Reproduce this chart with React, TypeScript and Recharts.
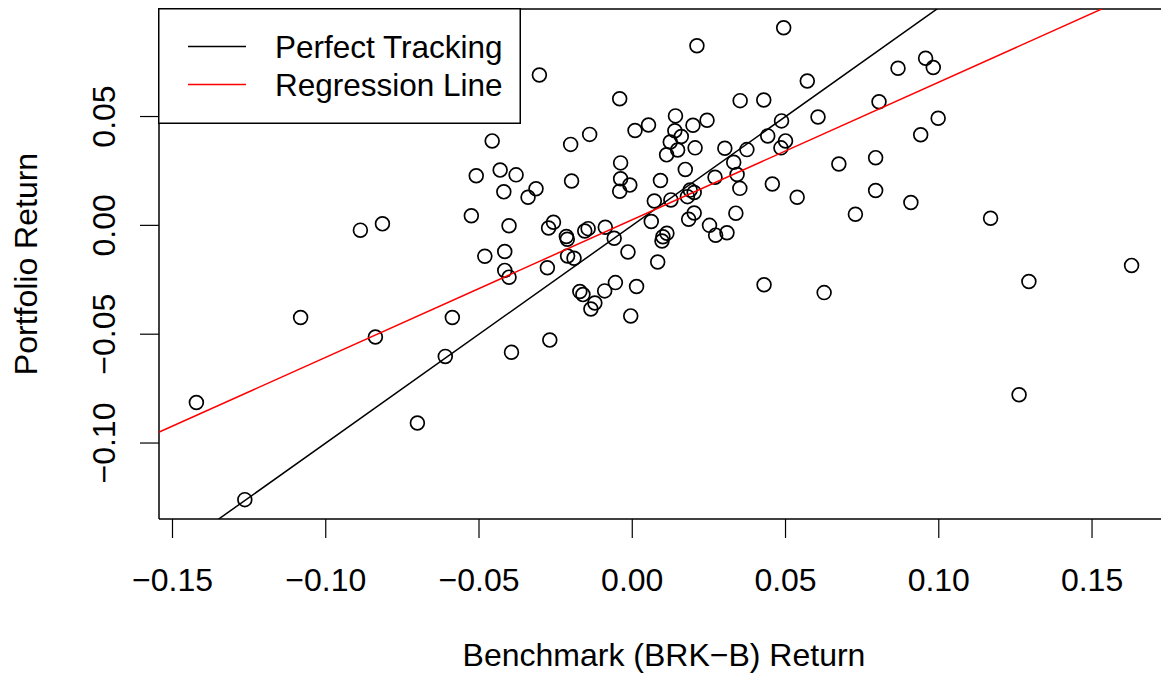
import React from "react";
import {
  ScatterChart,
  Scatter,
  XAxis,
  YAxis,
  ReferenceLine,
  Legend,
} from "recharts";

// Benchmark (BRK-B) monthly returns
const BENCH_RETURNS = [
  0.0494, 0.0211, -0.0303, 0.0571, -0.0041, 0.0352, 0.0429, 0.0141, 0.0606, 0.0244,
  0.0487, 0.0198, 0.0053, 0.0009, 0.0139, 0.016, -0.0139, 0.0442, 0.0124, 0.05,
  -0.0201, 0.0205, 0.0302, 0.0148, 0.0374, 0.0485, 0.0112, -0.0038, 0.0331, 0.0173,
  -0.0431, -0.0379, 0.0674, 0.0342, 0.027, -0.0038, 0.0092, -0.0198, -0.0008, -0.0041,
  0.0457, 0.0351, -0.0314, -0.0419, -0.034, 0.0538, 0.0189, 0.0202, 0.018, 0.0126,
  0.0072, -0.0402, -0.0257, -0.0273, -0.0215, -0.0212, -0.0144, -0.0155, -0.0088, -0.0059,
  0.0062, 0.0202, 0.0184, 0.0338, 0.0252, 0.0272, 0.0309, 0.0113, 0.01, 0.0097,
  -0.0416, -0.0014, -0.0211, -0.019, 0.0083, -0.0277, -0.0416, -0.0402, -0.0457, -0.0509,
  -0.0525, -0.0887, -0.0815, -0.0481, -0.0171, -0.0161, -0.009, -0.0055, 0.0014, -0.0122,
  -0.0135, -0.0005, -0.0269, -0.0394, 0.043, 0.0626, 0.1294, 0.1629, 0.1262, 0.0957,
  0.0982, 0.0867, 0.0805, 0.0998, 0.0941, 0.0794, 0.0794, 0.0909, 0.0728, 0.1169,
  -0.1082, -0.0838, -0.0587, -0.061, -0.1422, -0.0701, -0.1264,
];

// Portfolio returns for the same months
const PORT_RETURNS = [
  0.0908, 0.0825, 0.0691, 0.0663, 0.0582, 0.0573, 0.0576, 0.0503, 0.0498, 0.0483,
  0.048, 0.046, 0.0461, 0.0436, 0.0435, 0.0408, 0.0418, 0.0411, 0.0383, 0.0388,
  0.0372, 0.0356, 0.0354, 0.0346, 0.0348, 0.0356, 0.0324, 0.0287, 0.029, 0.0257,
  0.0254, 0.0232, 0.0282, 0.0234, 0.0221, 0.0214, 0.0206, 0.0204, 0.0185, 0.0157,
  0.019, 0.017, 0.0168, 0.0154, 0.0129, 0.0129, 0.0162, 0.0151, 0.0132, 0.0117,
  0.0112, -0.0002, 0.0014, -0.0012, -0.0051, -0.0064, -0.0015, -0.0026, -0.0009, -0.0059,
  0.0018, 0.0057, 0.0028, 0.0056, 0.0, -0.0045, -0.0034, -0.0036, -0.0052, -0.0072,
  -0.012, -0.0122, -0.0141, -0.0151, -0.0168, -0.0195, -0.0207, -0.0238, 0.0388, 0.0228,
  0.0044, -0.0022, 0.0007, -0.0142, -0.0304, -0.0318, -0.0301, -0.0263, -0.0281, -0.0357,
  -0.0384, -0.0416, -0.0527, -0.0583, -0.0273, -0.0309, -0.0258, -0.0184, -0.0778, 0.0768,
  0.0725, 0.0722, 0.0568, 0.0492, 0.0416, 0.0311, 0.016, 0.0105, 0.0051, 0.0033,
  -0.0423, -0.0513, -0.0423, -0.0602, -0.0814, -0.0908, -0.126,
];

const X_TICKS = [-0.15, -0.1, -0.05, 0, 0.05, 0.1, 0.15];
const Y_TICKS = [-0.1, -0.05, 0, 0.05];

const TRACK_INTERCEPT = 0;
const TRACK_SLOPE = 1;
const REG_INTERCEPT = 0.0026;
const REG_SLOPE = 0.632;

const X_DOMAIN: [number, number] = [-0.1544, 0.1725];
const Y_DOMAIN: [number, number] = [-0.1349, 0.0994];
const LINE_X = [-0.2, 0.2];

const FONT = "'Liberation Sans', Arial, Helvetica, sans-serif";
const FS = 32;

const points = BENCH_RETURNS.map((x, i) => ({ x, y: PORT_RETURNS[i] }));
const trackLine = LINE_X.map((x) => ({ x, y: TRACK_INTERCEPT + TRACK_SLOPE * x }));
const regLine = LINE_X.map((x) => ({ x, y: REG_INTERCEPT + REG_SLOPE * x }));

const fmt = (v: number) => v.toFixed(2).replace("-", "\u2212");

const HollowCircle = (props: any) => {
  const { cx, cy } = props;
  if (cx == null || cy == null) return <g />;
  return <circle cx={cx} cy={cy} r={6.9} fill="none" stroke="#000" strokeWidth={1.7} />;
};

const NoMark = () => <g />;

const YTick = (props: any) => {
  const { x, y, payload } = props;
  return (
    <text
      x={x}
      y={y}
      transform={`rotate(-90, ${x}, ${y})`}
      textAnchor="middle"
      fontSize={FS}
      fontFamily={FONT}
      fill="#000"
    >
      {fmt(payload.value)}
    </text>
  );
};

const renderLegend = (props: any) => {
  const items = (props.payload || []).filter(
    (entry: any) => entry.type !== "none" && entry.value !== "Returns"
  );
  return (
    <svg width={363} height={116} style={{ display: "block" }}>
      <rect x={0.75} y={0.75} width={361.5} height={114.5} fill="#fff" stroke="#000" strokeWidth={1.5} />
      {items.map((entry: any, i: number) => (
        <g key={entry.value}>
          <line
            x1={30}
            x2={88}
            y1={38.5 + i * 38}
            y2={38.5 + i * 38}
            stroke={entry.color}
            strokeWidth={1.5}
          />
          <text x={117} y={49.5 + i * 38} fontSize={31.5} fontFamily={FONT} fill="#000">
            {entry.value}
          </text>
        </g>
      ))}
    </svg>
  );
};

export default function App() {
  return (
    <div
      style={{
        position: "fixed",
        left: 0,
        top: 0,
        width: 1161,
        height: 675,
        overflow: "hidden",
        background: "#fff",
      }}
    >
      <ScatterChart width={1161} height={675} margin={{ top: 9, right: 0, bottom: 0, left: 0 }}>
        <XAxis
          type="number"
          dataKey="x"
          domain={X_DOMAIN}
          allowDataOverflow
          ticks={X_TICKS}
          interval={0}
          tickFormatter={fmt}
          height={156}
          tickSize={19}
          tickMargin={30}
          axisLine={{ stroke: "#000", strokeWidth: 1.5 }}
          tickLine={{ stroke: "#000", strokeWidth: 1.2 }}
          tick={{ fill: "#000", fontSize: FS, fontFamily: FONT }}
          label={() => (
            <text x={664} y={666} textAnchor="middle" fontSize={FS} fontFamily={FONT} fill="#000">
              Benchmark (BRK−B) Return
            </text>
          )}
        />
        <YAxis
          type="number"
          dataKey="y"
          domain={Y_DOMAIN}
          allowDataOverflow
          ticks={Y_TICKS}
          interval={0}
          width={159}
          tickSize={19}
          tickMargin={25}
          axisLine={{ stroke: "#000", strokeWidth: 1.5 }}
          tickLine={{ stroke: "#000", strokeWidth: 1.2 }}
          tick={<YTick />}
          label={() => (
            <text
              x={37}
              y={264}
              transform="rotate(-90, 37, 264)"
              textAnchor="middle"
              fontSize={FS}
              fontFamily={FONT}
              fill="#000"
            >
              Portfolio Return
            </text>
          )}
        />
        <ReferenceLine y={Y_DOMAIN[1]} stroke="#000" strokeWidth={1.5} />
        <Scatter
          name="Returns"
          data={points}
          shape={<HollowCircle />}
          legendType="none"
          isAnimationActive={false}
        />
        <Scatter
          name="Perfect Tracking"
          data={trackLine}
          fill="#000"
          line={{ stroke: "#000", strokeWidth: 1.5 }}
          shape={<NoMark />}
          isAnimationActive={false}
        />
        <Scatter
          name="Regression Line"
          data={regLine}
          fill="#FF0000"
          line={{ stroke: "#FF0000", strokeWidth: 1.5 }}
          shape={<NoMark />}
          isAnimationActive={false}
        />
        <Legend
          layout="vertical"
          align="center"
          verticalAlign="middle"
          content={renderLegend}
          wrapperStyle={{ left: 158, top: 8, width: 363, height: 116 }}
        />
      </ScatterChart>
    </div>
  );
}
